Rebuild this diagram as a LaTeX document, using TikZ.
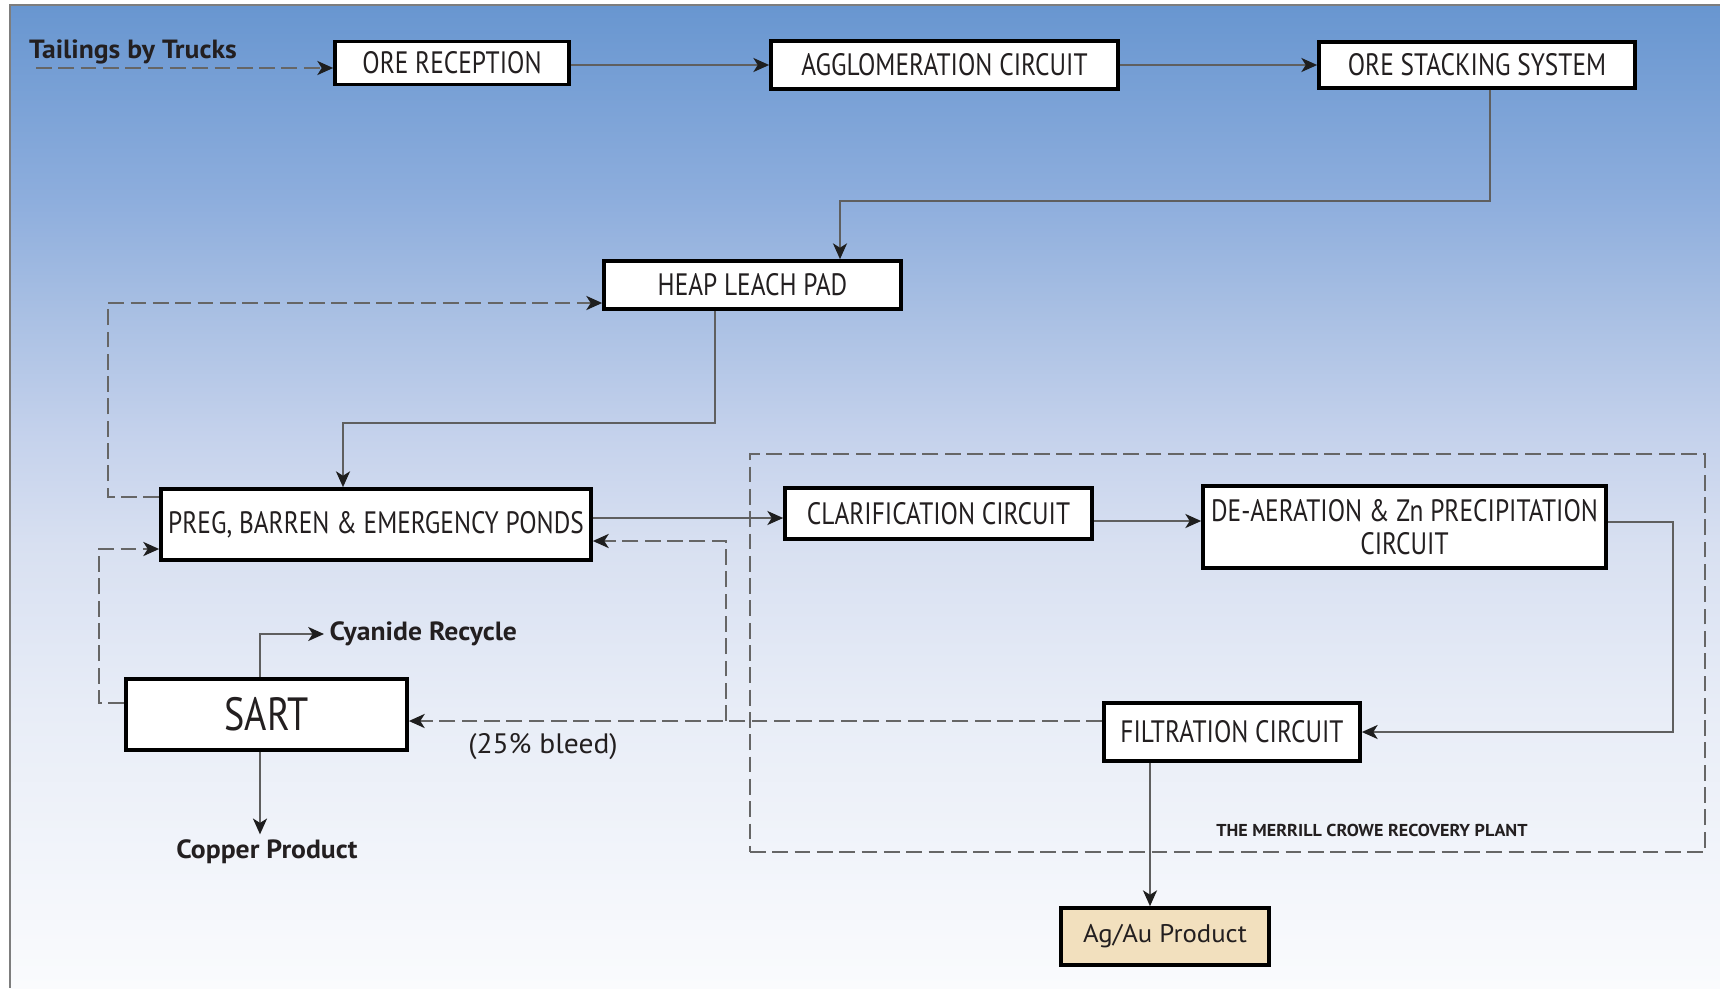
\documentclass[tikz,border=0pt]{standalone}
\usepackage{fontspec}
\setmainfont{PT Sans}[FakeStretch=0.82]
\newfontfamily\widefont{PT Sans}[FakeStretch=1.05]
\usetikzlibrary{arrows.meta, positioning, calc}

\definecolor{bg0}{RGB}{250,251,253}
\definecolor{bg1}{RGB}{232,237,247}
\definecolor{bg2}{RGB}{216,224,241}
\definecolor{bg3}{RGB}{197,210,236}
\definecolor{bg4}{RGB}{168,191,227}
\definecolor{bg5}{RGB}{142,174,221}
\definecolor{bg6}{RGB}{104,150,208}
\definecolor{linegray}{RGB}{95,95,95}
\definecolor{dashgray}{RGB}{102,102,102}
\definecolor{framegray}{RGB}{125,125,125}
\definecolor{tipgray}{RGB}{30,30,30}
\definecolor{textgray}{RGB}{35,31,32}
\definecolor{prodtan}{RGB}{242,224,190}

% the path is fitted into 25bp--75bp of the shading
\pgfdeclareverticalshading{skyfade}{100bp}{color(0bp)=(bg0); color(25bp)=(bg0); color(39bp)=(bg1); color(47.5bp)=(bg2); color(53bp)=(bg3); color(59.5bp)=(bg4); color(65bp)=(bg5); color(75bp)=(bg6); color(100bp)=(bg6)}

\begin{document}
\begin{tikzpicture}[x=0.02cm, y=-0.02cm, text=textgray,
unitbox/.style={draw=black, line width=2.1pt, fill=white, inner sep=0pt, align=center, font=\fontsize{17.6}{18.5}\selectfont},
dims/.style 2 args={minimum width=#1*0.02cm, minimum height=#2*0.02cm},
flow/.style={draw=linegray, line width=1.1pt, -{Stealth[length=9pt, width=8pt, inset=2.5pt, color=tipgray]}},
recycle/.style={flow, draw=dashgray, line width=1.4pt, dash pattern=on 9pt off 3.7pt},
lbl/.style={font=\widefont\fontsize{15}{16}\selectfont\bfseries, inner sep=3pt}
]
    % Background and frame
    \useasboundingbox (0,0) rectangle (1720,988);
    \fill[white] (0,0) rectangle (1720,988);
    \shade[shading=skyfade] (10,5) rectangle (1720,988);
    \draw[framegray, line width=1.7pt] (10,988) -- (10,5) -- (1720,5);

    % Merrill Crowe plant outline
    \node (plant) at (1227.5,653) [dims={955}{398}, draw=dashgray, line width=1.3pt, dash pattern=on 9pt off 3.7pt] {};
    \node (plantlbl) at (1372,830) [font=\widefont\fontsize{9.8}{10}\selectfont\bfseries] {THE MERRILL CROWE RECOVERY PLANT};

    % Ore handling
    \node (tails) at (133,52) [lbl] {Tailings by Trucks};
    \node (recep) at (452,63) [unitbox, dims={234}{43}] {ORE RECEPTION};
    \node (agglo) at (944.5,65) [unitbox, dims={347}{48}] {AGGLOMERATION CIRCUIT};
    \node (stack) at (1477,65) [unitbox, dims={316}{46}] {ORE STACKING SYSTEM};
    \node (heap) at (752.5,285) [unitbox, dims={297}{48}] {HEAP LEACH PAD};
    \node (ponds) at (376,524.5) [unitbox, dims={430}{71}] {PREG, BARREN \& EMERGENCY PONDS};

    % Recovery
    \node (clarif) at (938.5,513.5) [unitbox, dims={307}{51}] {CLARIFICATION CIRCUIT};
    \node (deaer) at (1404.5,527) [unitbox, dims={403}{82}] {DE-AERATION \& Zn PRECIPITATION\\CIRCUIT};
    \node (filtr) at (1232,732) [unitbox, dims={256}{58}] {FILTRATION CIRCUIT};
    \node (agau) at (1165,936.5) [unitbox, fill=prodtan, dims={208}{57}, font=\widefont\fontsize{14.5}{16}\selectfont] {Ag/Au Product};

    % SART
    \node (sart) at (266.5,714.5) [unitbox, dims={281}{71}, font=\fontsize{26.5}{28}\selectfont] {SART};
    \node (cyan) at (324,634) [lbl, anchor=west] {Cyanide Recycle};
    \node (copper) at (267,852) [lbl] {Copper Product};
    \node (bleed) at (543,747) [font=\widefont\fontsize{16}{17}\selectfont] {(25\% bleed)};

    % Ore line
    \coordinate (tstart) at (36,68);
    \draw[recycle] (tstart) -- (tstart -| recep.west);
    \draw[flow] (agglo.west -| recep.east) -- (agglo.west);
    \draw[flow] (agglo.east) -- (agglo.east -| stack.west);

    \coordinate (s1) at (1490,201);
    \coordinate (s2) at (840,201);
    \draw[flow] (s1 |- stack.south) -- (s1) -- (s2) -- (s2 |- heap.north);

    \coordinate (h1) at (715,423);
    \coordinate (h2) at (343,423);
    \draw[flow] (h1 |- heap.south) -- (h1) -- (h2) -- (h2 |- ponds.north);

    % Solution back to the pad
    \coordinate (p1) at (108,497);
    \coordinate (p2) at (108,303);
    \draw[recycle] (p1 -| ponds.west) -- (p1) -- (p2) -- (p2 -| heap.west);

    % Merrill Crowe train
    \coordinate (m1) at (0,518);
    \coordinate (m2) at (0,521);
    \draw[flow] (m1 -| ponds.east) -- (m1 -| clarif.west);
    \draw[flow] (m2 -| clarif.east) -- (m2 -| deaer.west);
    \coordinate (d1) at (1673,522);
    \draw[flow] (d1 -| deaer.east) -- (d1) |- (filtr.east);
    \coordinate (f1) at (1150,800);
    \draw[flow] (f1 |- filtr.south) -- (f1 |- agau.north);

    % Bleed
    \coordinate (b1) at (726,721);
    \coordinate (b2) at (726,541);
    \draw[recycle] (b1 -| filtr.west) -- (b1 -| sart.east);
    \draw[recycle] (b1) -- (b2) -- (b2 -| ponds.east);

    % SART outlets
    \coordinate (r1) at (99,703);
    \coordinate (r2) at (99,549);
    \draw[recycle] (r1 -| sart.west) -- (r1) -- (r2) -- (r2 -| ponds.west);
    \coordinate (u1) at (260,640);
    \draw[flow] (u1 |- sart.north) |- (cyan.west);
    \draw[flow] (u1 |- sart.south) -- (u1 |- copper.north);
\end{tikzpicture}
\end{document}
